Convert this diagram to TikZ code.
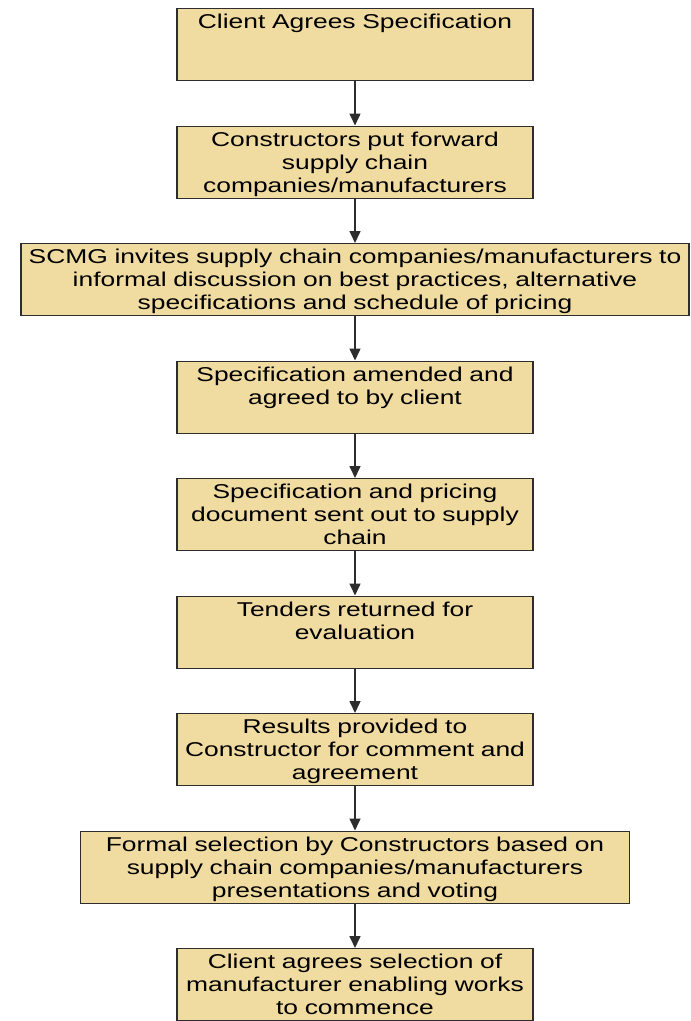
\documentclass[tikz,border=0pt]{standalone}
\usepackage{fontspec}
\setmainfont{Liberation Sans}[FakeStretch=1.32]
\usepackage{tikz}
\usetikzlibrary{arrows.meta}
\definecolor{boxfill}{RGB}{240,219,160}
\definecolor{edgegray}{RGB}{45,45,45}
\tikzset{
  stepbox/.style={draw=edgegray, line width=1.3pt, fill=boxfill, anchor=north,
    align=center, text width=#1, inner xsep=2pt, inner ysep=0pt,
    text height=20pt, text depth=52pt, font=\fontsize{20}{23}\selectfont},
  stepbox/.default=352pt,
  flow/.style={draw=edgegray, line width=1.6pt, -{Triangle[length=12pt, width=11pt]}}
}

\begin{document}
\begin{tikzpicture}[x=1pt, y=1pt]
\useasboundingbox (0, 0) rectangle (691, -1021);
\node (agree) at (355, -8) [stepbox] {Client Agrees Specification};
\node (putfwd) at (355, -125.5) [stepbox] {Constructors put forward\\ supply chain\\ companies/manufacturers};
\node (invite) at (355, -243) [stepbox=664pt] {SCMG invites supply chain companies/manufacturers to\\ informal discussion on best practices, alternative\\ specifications and schedule of pricing};
\node (amend) at (355, -360.5) [stepbox] {Specification amended and\\ agreed to by client};
\node (sendout) at (355, -478) [stepbox] {Specification and pricing\\ document sent out to supply\\ chain};
\node (tender) at (355, -595.5) [stepbox] {Tenders returned for\\ evaluation};
\node (result) at (355, -713) [stepbox] {Results provided to\\ Constructor for comment and\\ agreement};
\node (select) at (355, -830.5) [stepbox=545pt] {Formal selection by Constructors based on\\ supply chain companies/manufacturers\\ presentations and voting};
\node (final) at (355, -948) [stepbox] {Client agrees selection of\\ manufacturer enabling works\\ to commence};
% arrows down the chain
\draw [flow] (agree) -- (putfwd);
\draw [flow] (putfwd) -- (invite);
\draw [flow] (invite) -- (amend);
\draw [flow] (amend) -- (sendout);
\draw [flow] (sendout) -- (tender);
\draw [flow] (tender) -- (result);
\draw [flow] (result) -- (select);
\draw [flow] (select) -- (final);
\end{tikzpicture}
\end{document}
